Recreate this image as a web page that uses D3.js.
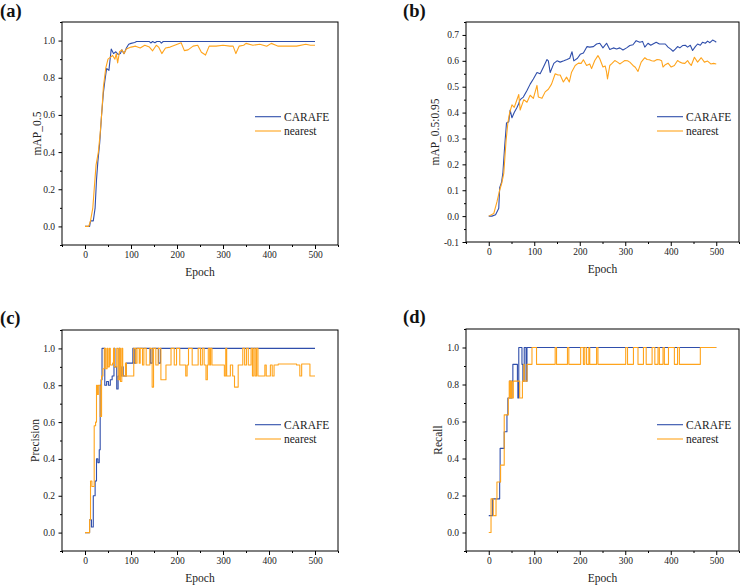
<!DOCTYPE html>
<html>
<head>
<meta charset="utf-8">
<script src="https://cdn.jsdelivr.net/npm/d3@7"></script>
<style>
  body { margin: 0; background: #fff; }
  svg { display: block; }
  svg text { font-family: "Liberation Serif", "DejaVu Serif", "Times New Roman", Times, serif; }
</style>
</head>
<body>
<div id="chart"></div>
<script>
// values, as [epoch, value]
var aCarafe = [[0,0],[10,0],[12,0.03],[18,0.03],[22,0.1],[25,0.25],[28,0.35],[32,0.45],[36,0.6],[40,0.72],[43,0.78],[47,0.85],[52,0.84],[57,0.955],[62,0.93],[67,0.94],[72,0.925],[77,0.93],[80,0.95],[85,0.93],[90,0.96],[95,0.98],[100,0.985],[108,0.99],[112,0.995],[140,0.995],[143,0.987],[147,0.995],[152,0.988],[156,0.995],[163,0.995],[166,0.986],[170,0.995],[500,0.995]];
var aNearest = [[0,0],[8,0],[12,0.03],[17,0.1],[20,0.2],[24,0.33],[29,0.4],[33,0.5],[37,0.63],[40,0.75],[45,0.85],[50,0.9],[55,0.91],[60,0.92],[65,0.9],[68,0.93],[71,0.88],[75,0.94],[80,0.95],[85,0.93],[90,0.955],[100,0.965],[110,0.97],[120,0.96],[130,0.975],[140,0.965],[147,0.945],[155,0.975],[160,0.965],[167,0.93],[175,0.96],[185,0.965],[195,0.975],[209,0.988],[216,0.946],[224,0.95],[235,0.97],[245,0.975],[253,0.937],[262,0.922],[270,0.97],[285,0.97],[300,0.975],[315,0.97],[322,0.97],[328,0.93],[335,0.97],[345,0.975],[350,0.985],[365,0.975],[380,0.98],[395,0.97],[405,0.985],[415,0.975],[420,0.97],[440,0.97],[460,0.97],[480,0.98],[490,0.975],[500,0.975]];

var bCarafe = [[0,0],[7,0],[15,0.005],[22,0.03],[24,0.11],[28,0.13],[31,0.165],[35,0.27],[39,0.36],[44,0.365],[47,0.41],[51,0.38],[56,0.4],[62,0.42],[66,0.435],[69,0.45],[76,0.46],[84,0.485],[91,0.51],[98,0.53],[106,0.555],[113,0.55],[120,0.575],[128,0.605],[131,0.6],[135,0.555],[143,0.59],[150,0.6],[157,0.595],[165,0.6],[172,0.605],[178,0.61],[183,0.635],[187,0.6],[195,0.61],[201,0.625],[208,0.63],[216,0.655],[222,0.653],[230,0.655],[237,0.665],[244,0.668],[251,0.65],[259,0.668],[266,0.644],[274,0.65],[281,0.646],[288,0.65],[295,0.642],[303,0.65],[310,0.659],[317,0.662],[324,0.678],[332,0.672],[338,0.675],[343,0.653],[350,0.668],[356,0.66],[361,0.665],[368,0.672],[375,0.665],[383,0.665],[388,0.665],[394,0.653],[400,0.645],[405,0.637],[410,0.645],[415,0.655],[420,0.65],[426,0.659],[432,0.66],[437,0.653],[443,0.66],[448,0.64],[454,0.655],[459,0.665],[465,0.66],[470,0.672],[476,0.668],[481,0.676],[486,0.67],[492,0.68],[497,0.676],[500,0.672]];
var bNearest = [[0,0],[11,0.01],[18,0.055],[24,0.1],[29,0.13],[33,0.165],[38,0.29],[42,0.36],[46,0.4],[51,0.43],[56,0.42],[60,0.44],[66,0.47],[69,0.41],[73,0.43],[77,0.45],[84,0.44],[91,0.467],[98,0.455],[106,0.505],[109,0.46],[117,0.455],[124,0.48],[131,0.49],[138,0.51],[146,0.55],[152,0.545],[157,0.545],[164,0.518],[171,0.537],[177,0.518],[182,0.556],[190,0.582],[197,0.591],[203,0.59],[208,0.604],[215,0.582],[222,0.588],[226,0.57],[233,0.601],[240,0.62],[244,0.608],[251,0.576],[256,0.58],[259,0.556],[261,0.53],[266,0.582],[271,0.59],[277,0.601],[283,0.595],[288,0.588],[294,0.595],[299,0.601],[305,0.6],[310,0.595],[317,0.582],[322,0.575],[328,0.559],[335,0.595],[343,0.612],[348,0.605],[353,0.604],[358,0.6],[364,0.599],[370,0.605],[375,0.604],[380,0.6],[383,0.576],[388,0.585],[394,0.591],[401,0.576],[408,0.582],[415,0.601],[420,0.595],[426,0.591],[431,0.59],[437,0.601],[441,0.59],[445,0.582],[452,0.614],[459,0.595],[467,0.612],[474,0.595],[481,0.599],[488,0.588],[494,0.59],[500,0.588]];

// precision / recall change in steps
var cCarafe = [[0,0],[10,0.07],[14,0.03],[18,0.2],[22,0.28],[25,0.4],[28,0.38],[31,0.45],[33,0.8],[35,0.83],[37,1.0],[43,0.8],[47,0.82],[51,0.8],[55,0.83],[59,0.85],[63,1.0],[65,0.9],[69,0.78],[72,0.85],[74,1.0],[76,0.85],[80,0.9],[83,0.85],[90,0.92],[104,1.0],[107,0.92],[110,1.0],[142,0.92],[146,1.0],[160,0.92],[164,1.0],[500,1.0]];
var cNearest = [[0,0],[10,0.07],[12,0.28],[15,0.25],[20,0.58],[23,0.6],[25,0.8],[27,0.75],[29,0.8],[33,0.63],[36,0.85],[39,0.89],[42,1.0],[45,0.89],[48,1.0],[50,0.9],[53,1.0],[55,0.91],[60,0.92],[62,1.0],[64,0.9],[69,1.0],[72,0.83],[75,1.0],[77,0.82],[80,1.0],[82,0.85],[88,0.92],[90,0.85],[100,0.85],[106,1.0],[110,0.92],[113,1.0],[118,0.92],[120,1.0],[125,0.91],[128,1.0],[133,0.91],[141,1.0],[146,0.79],[149,1.0],[154,0.91],[159,1.0],[165,0.83],[176,0.91],[187,1.0],[194,0.91],[199,1.0],[206,0.91],[219,0.85],[222,0.91],[225,1.0],[233,0.91],[246,1.0],[251,0.91],[255,1.0],[259,0.91],[263,0.83],[266,0.91],[268,1.0],[271,0.91],[273,1.0],[276,0.91],[303,0.85],[306,1.0],[308,0.85],[316,0.91],[321,0.85],[325,0.79],[333,0.91],[343,1.0],[347,0.91],[351,1.0],[355,0.91],[361,1.0],[364,0.85],[367,1.0],[370,0.85],[373,1.0],[376,0.85],[391,0.91],[394,0.85],[403,0.91],[407,0.85],[411,0.91],[420,0.915],[460,0.91],[467,0.85],[471,0.915],[489,0.85],[500,0.85]];

var dCarafe = [[0,0.091],[8,0.182],[24,0.273],[25,0.455],[34,0.545],[40,0.636],[42,0.727],[46,0.818],[48,0.727],[51,0.818],[53,0.909],[63,0.818],[64,0.727],[66,1.0],[73,0.909],[75,0.818],[78,1.0],[82,0.818],[84,1.0],[500,1.0]];
var dNearest = [[0,0],[5,0.182],[10,0.091],[16,0.182],[18,0.273],[26,0.364],[34,0.636],[43,0.727],[45,0.818],[47,0.727],[49,0.818],[51,0.727],[54,0.818],[68,0.727],[74,0.818],[77,0.909],[78,0.818],[84,0.909],[95,1.0],[105,0.909],[146,1.0],[149,0.909],[173,1.0],[176,0.909],[202,1.0],[208,0.909],[211,1.0],[215,0.909],[220,1.0],[222,0.909],[237,1.0],[240,0.909],[301,1.0],[305,0.909],[318,1.0],[328,0.909],[340,1.0],[346,0.909],[359,1.0],[365,0.909],[372,1.0],[375,0.909],[383,1.0],[386,0.909],[395,1.0],[408,0.909],[415,1.0],[419,0.909],[465,1.0],[500,1.0]];

var seriesNames = ["CARAFE", "nearest"];
var panelLabels = ["(a)", "(b)", "(c)", "(d)"];
var yTitles = ["mAP_0.5", "mAP_0.5:0.95", "Precision", "Recall"];
var xTicks = [0, 100, 200, 300, 400, 500];
var xMinor = [-50, 50, 150, 250, 350, 450, 550];
var yTicksUnit = [0, 0.2, 0.4, 0.6, 0.8, 1.0];
var yMinorUnit = [-0.1, 0.1, 0.3, 0.5, 0.7, 0.9, 1.1];
var yTicksB = [-0.1, 0, 0.1, 0.2, 0.3, 0.4, 0.5, 0.6, 0.7];
var yMinorB = [-0.05, 0.05, 0.15, 0.25, 0.35, 0.45, 0.55, 0.65, 0.75];

var colors = ["#2f4eab", "#ffa41c"];
var serif = "'Liberation Serif', 'DejaVu Serif', 'Times New Roman', serif";
var width = 740, height = 586;

var svg = d3.select("#chart").append("svg")
  .attr("width", width)
  .attr("height", height)
  .attr("font-family", serif);

// layout of the four panels
var panels = [
  { l: 62,  t: 22,  r: 338, b: 245, yDomain: [-0.1, 1.1], yTicks: yTicksUnit, yMinor: yMinorUnit, data: [aCarafe, aNearest], step: false, lab: [0, 17],   yTitleX: 37,  leg: [255, 116.7] },
  { l: 466, t: 22,  r: 739, b: 242, yDomain: [-0.1, 0.75], yTicks: yTicksB, yMinor: yMinorB, data: [bCarafe, bNearest], step: false, lab: [403, 17], yTitleX: 435, leg: [657, 116.7] },
  { l: 62,  t: 330, r: 338, b: 551, yDomain: [-0.1, 1.1], yTicks: yTicksUnit, yMinor: yMinorUnit, data: [cCarafe, cNearest], step: true, lab: [0, 324],  yTitleX: 35,  leg: [255, 424.7] },
  { l: 466, t: 329, r: 739, b: 551, yDomain: [-0.1, 1.1], yTicks: yTicksUnit, yMinor: yMinorUnit, data: [dCarafe, dNearest], step: true, lab: [403, 323], yTitleX: 438, leg: [657, 424.7] }
];

function styleAxis(sel, size) {
  sel.attr("font-family", serif).attr("font-size", size);
  sel.select(".domain").remove();
  sel.selectAll("line").attr("stroke", "#000");
  sel.selectAll("text").attr("fill", "#222").attr("font-family", serif);
}

function drawPanel(p, i) {
  var x = d3.scaleLinear().domain([-50, 550]).range([p.l, p.r]);
  var y = d3.scaleLinear().domain(p.yDomain).range([p.b, p.t]);
  var g = svg.append("g");

  // x axis, major + minor
  g.append("g").attr("transform", "translate(0," + p.b + ")")
    .call(d3.axisBottom(x).tickValues(xTicks).tickSize(4).tickPadding(2).tickFormat(d3.format("d")))
    .call(styleAxis, 9.5);
  g.append("g").attr("transform", "translate(0," + p.b + ")")
    .call(d3.axisBottom(x).tickValues(xMinor).tickSize(2).tickFormat(""))
    .call(styleAxis, 9.5);

  // y axis, major + minor
  g.append("g").attr("transform", "translate(" + p.l + ",0)")
    .call(d3.axisLeft(y).tickValues(p.yTicks).tickSize(3.5).tickPadding(3.5).tickFormat(function(d){ return d.toFixed(1); }))
    .call(styleAxis, 9.5);
  g.append("g").attr("transform", "translate(" + p.l + ",0)")
    .call(d3.axisLeft(y).tickValues(p.yMinor).tickSize(2).tickFormat(""))
    .call(styleAxis, 9.5);

  // lines
  var line = d3.line()
    .x(function(d){ return x(d[0]); })
    .y(function(d){ return y(d[1]); })
    .curve(p.step ? d3.curveStepAfter : d3.curveLinear);
  p.data.forEach(function(s, k) {
    g.append("path")
      .datum(s)
      .attr("fill", "none")
      .attr("stroke", colors[k])
      .attr("stroke-width", 1.1)
      .attr("stroke-linejoin", "round")
      .attr("d", line);
  });

  // frame
  g.append("rect")
    .attr("x", p.l).attr("y", p.t)
    .attr("width", p.r - p.l).attr("height", p.b - p.t)
    .attr("fill", "none").attr("stroke", "#000").attr("stroke-width", 1);

  // titles
  g.append("text")
    .attr("x", (p.l + p.r) / 2).attr("y", p.b + 27).attr("dy", "0.35em")
    .attr("text-anchor", "middle").attr("font-size", 11.5).attr("fill", "#222")
    .text("Epoch");
  g.append("text")
    .attr("transform", "translate(" + p.yTitleX + "," + ((p.t + p.b) / 2) + ") rotate(-90)")
    .attr("dy", "0.35em")
    .attr("text-anchor", "middle").attr("font-size", 11.5).attr("fill", "#222")
    .text(yTitles[i]);
  g.append("text")
    .attr("x", p.lab[0]).attr("y", p.lab[1])
    .attr("font-size", 18.5).attr("font-weight", "bold").attr("fill", "#111")
    .text(panelLabels[i]);

  // legend
  seriesNames.forEach(function(name, k) {
    var ly = p.leg[1] + k * 14.3;
    g.append("line")
      .attr("x1", p.leg[0]).attr("x2", p.leg[0] + 26)
      .attr("y1", ly).attr("y2", ly)
      .attr("stroke", colors[k]).attr("stroke-width", 1.1);
    g.append("text")
      .attr("x", p.leg[0] + 29).attr("y", ly).attr("dy", "0.35em")
      .attr("font-size", 11.5).attr("fill", "#222")
      .text(name);
  });
}

panels.forEach(drawPanel);
</script>
</body>
</html>
